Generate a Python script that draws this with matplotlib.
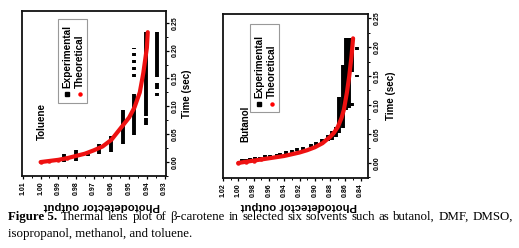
import matplotlib
matplotlib.use("Agg")
import matplotlib.pyplot as plt
from matplotlib.patches import Rectangle
from matplotlib.ticker import MultipleLocator

# ---------------- data ----------------
# Left panel: Toluene
tol_theo_pd = [1.000, 0.995, 0.990, 0.985, 0.980, 0.975, 0.970, 0.965, 0.960,
               0.955, 0.950, 0.947, 0.944, 0.942, 0.940, 0.9395]
tol_theo_t = [0.000, 0.002, 0.004, 0.007, 0.011, 0.015, 0.021, 0.028, 0.040,
              0.060, 0.080, 0.098, 0.125, 0.160, 0.205, 0.233]
tol_exp_pd = [0.987, 0.980, 0.973, 0.967, 0.960, 0.9535, 0.947, 0.947, 0.947,
              0.947, 0.947, 0.947, 0.9405, 0.9405, 0.9345, 0.9345, 0.9345]
tol_exp_lo = [0.001, 0.002, 0.010, 0.014, 0.018, 0.032, 0.049, 0.153, 0.165,
              0.177, 0.190, 0.202, 0.066, 0.082, 0.118, 0.131, 0.153]
tol_exp_hi = [0.014, 0.022, 0.020, 0.032, 0.047, 0.094, 0.122, 0.158, 0.170,
              0.183, 0.195, 0.205, 0.079, 0.233, 0.124, 0.141, 0.233]

# Right panel: Butanol
but_theo_pd = [1.000, 0.990, 0.980, 0.970, 0.960, 0.950, 0.940, 0.930, 0.920,
               0.910, 0.900, 0.890, 0.880, 0.875, 0.870, 0.865, 0.862, 0.858,
               0.855, 0.852, 0.850]
but_theo_t = [0.000, 0.002, 0.004, 0.006, 0.008, 0.010, 0.012, 0.015, 0.018,
              0.022, 0.027, 0.034, 0.045, 0.052, 0.062, 0.078, 0.092, 0.122,
              0.150, 0.185, 0.215]
but_exp_pd = [0.995, 0.990, 0.985, 0.978, 0.972, 0.965, 0.958, 0.950, 0.945,
              0.938, 0.930, 0.923, 0.915, 0.905, 0.898, 0.890, 0.883, 0.877,
              0.872, 0.868, 0.8635, 0.859, 0.8557, 0.8518, 0.8518, 0.8452, 0.8452]
but_exp_lo = [0.003, 0.004, 0.005, 0.007, 0.008, 0.010, 0.011, 0.012, 0.014,
              0.016, 0.018, 0.021, 0.023, 0.027, 0.029, 0.033, 0.037, 0.040,
              0.045, 0.052, 0.060, 0.091, 0.095, 0.157, 0.098, 0.195, 0.148]
but_exp_hi = [0.006, 0.007, 0.008, 0.010, 0.011, 0.013, 0.014, 0.016, 0.018,
              0.020, 0.022, 0.025, 0.028, 0.032, 0.036, 0.042, 0.048, 0.055,
              0.062, 0.114, 0.169, 0.2155, 0.2155, 0.2155, 0.104, 0.200, 0.152]

tol_xticks = [1.01, 1.00, 0.99, 0.98, 0.97, 0.96, 0.95, 0.94, 0.93]
but_xticks = [1.02, 1.00, 0.98, 0.96, 0.94, 0.92, 0.90, 0.88, 0.86, 0.84]
yticks = [0.00, 0.05, 0.10, 0.15, 0.20, 0.25]

legend_labels = ["Experimental", "Theoretical"]
caption_line1 = "Thermal lens plot of \u03b2-carotene in selected six solvents such as butanol, DMF, DMSO,"
caption_line2 = "isopropanol, methanol, and toluene."

# ---------------- figure ----------------
W, H = 519, 248
fig = plt.figure(figsize=(W / 100, H / 100), dpi=100)
SANS = ["Liberation Sans", "DejaVu Sans"]
SERIF = ["Liberation Serif", "DejaVu Serif"]


def fx(px):
    return px / W


def fy(py):
    return 1 - py / H


def make_axes(box, xlim, ylim, xticks, xminor, xlab_x, ylab_x):
    x0, y0, x1, y1 = box
    ax = fig.add_axes([fx(x0), fy(y1), fx(x1) - fx(x0), fy(y0) - fy(y1)])
    ax.set_xlim(*xlim)
    ax.set_ylim(*ylim)
    for s in ax.spines.values():
        s.set_linewidth(1.3)
        s.set_color("#111111")
    ax.yaxis.tick_right()
    ax.set_xticks(xticks)
    ax.set_xticklabels([f"{v:.2f}" for v in xticks], rotation=90,
                       fontsize=5.0, fontweight="bold", family=SANS)
    ax.xaxis.set_minor_locator(MultipleLocator(xminor))
    ax.set_yticks(yticks)
    ax.set_yticklabels([f"{v:.2f}" for v in yticks], rotation=90, va="center",
                       fontsize=5.0, fontweight="bold", family=SANS)
    ax.yaxis.set_minor_locator(MultipleLocator(0.025))
    ax.tick_params(which="major", direction="out", length=2.5, width=0.9, pad=1.5)
    ax.tick_params(which="minor", direction="out", length=1.5, width=0.7)
    # axis titles placed as figure text
    fig.text(fx(xlab_x), fy(206), "Photodetector output", rotation=180,
             ha="center", va="center", fontsize=8.2, fontweight="bold",
             family=SANS)
    fig.text(fx(ylab_x), fy((y0 + y1) / 2), "Time (sec)", rotation=90,
             ha="center", va="center", fontsize=7, fontweight="bold",
             family=SANS)
    return ax


axL = make_axes((22, 11, 166, 176), (1.0105, 0.9292), (-0.025, 0.271),
                tol_xticks, 0.005, 102, 187)
axR = make_axes((223, 14, 368, 178), (1.02, 0.8305), (-0.026, 0.257),
                but_xticks, 0.01, 299, 391)

for ax, epd, elo, ehi, tpd, tt in [
        (axL, tol_exp_pd, tol_exp_lo, tol_exp_hi, tol_theo_pd, tol_theo_t),
        (axR, but_exp_pd, but_exp_lo, but_exp_hi, but_theo_pd, but_theo_t)]:
    ax.vlines(epd, elo, ehi, color="black", linewidth=2.8, zorder=2)
    ax.plot(tpd, tt, color="#ee1111", linewidth=3.0, solid_capstyle="round",
            zorder=3)
    ax.plot(tpd[:4], tt[:4], linestyle="none", marker="o", markersize=2.2,
            color="#ee1111", zorder=3)


# ---------------- legends (manual, rotated text) ----------------
def legend(box, mk_y, xs, text_y0):
    x0, y0, x1, y1 = box
    fig.patches.append(Rectangle((fx(x0), fy(y1)), fx(x1) - fx(x0),
                                 fy(y0) - fy(y1), transform=fig.transFigure,
                                 facecolor="white", edgecolor="#999999",
                                 linewidth=0.8, zorder=5))
    colors = ["black", "red"]
    markers = ["s", "o"]
    for x, lab, c, m in zip(xs, legend_labels, colors, markers):
        fig.lines.append(plt.Line2D([fx(x)], [fy(mk_y)], transform=fig.transFigure,
                                    marker=m, markersize=2.2, color=c,
                                    linestyle="none", zorder=6))
        fig.text(fx(x), fy(text_y0), lab, rotation=90, rotation_mode="anchor",
                 ha="left", va="center", fontsize=7.2, fontweight="bold",
                 family=SANS, zorder=6)


legend((58, 19, 87, 103), 94, (67, 80), 88)
legend((250, 24, 279, 112), 104, (259, 272), 98)

fig.text(fx(42), fy(121), "Toluene", rotation=90, ha="center", va="center",
         fontsize=7.0, fontweight="bold", family=SANS)
fig.text(fx(245), fy(124), "Butanol", rotation=90, ha="center", va="center",
         fontsize=7.0, fontweight="bold", family=SANS)

# ---------------- caption (justified first line) ----------------
cap_fs = 9.3
renderer = fig.canvas.get_renderer()
x_left, x_right = 8, 513
y1_px, y2_px = 217, 234
words = [("Figure 5.", "bold")] + [(w, "normal") for w in caption_line1.split(" ")]
texts = []
widths = []
for w, wt in words:
    t = fig.text(0, fy(y1_px), w, fontsize=cap_fs, fontweight=wt, family=SERIF,
                 ha="left", va="center")
    bb = t.get_window_extent(renderer=renderer)
    texts.append(t)
    widths.append(bb.width)
gap = (x_right - x_left - sum(widths)) / (len(words) - 1)
cur = x_left
for t, w in zip(texts, widths):
    t.set_x(fx(cur))
    cur += w + gap
fig.text(fx(x_left), fy(y2_px), caption_line2, fontsize=cap_fs, family=SERIF,
         ha="left", va="center")

fig.savefig("out.png", dpi=100)
